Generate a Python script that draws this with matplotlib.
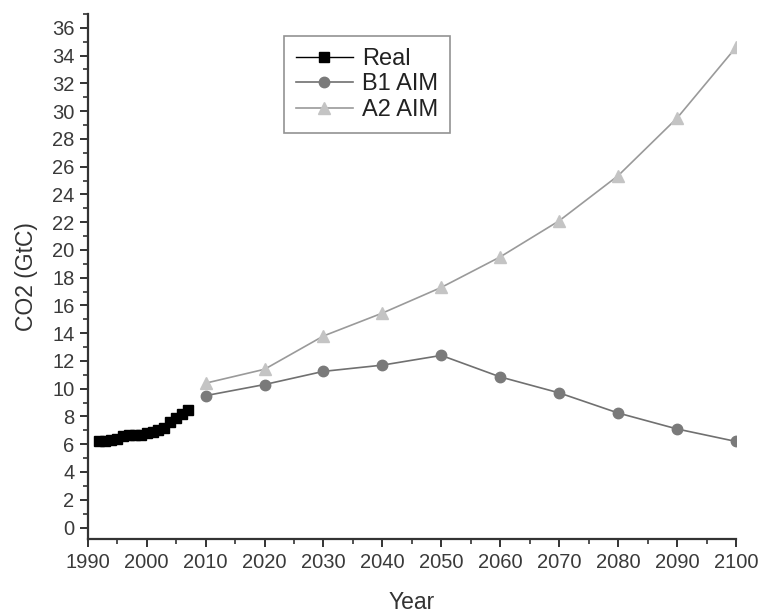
import numpy as np
import matplotlib.pyplot as plt
from matplotlib.ticker import MultipleLocator

plt.rcParams['font.family'] = ['Liberation Sans', 'DejaVu Sans']

# observed emissions
real_years = [1992, 1993, 1994, 1995, 1996, 1997, 1998, 1999,
              2000, 2001, 2002, 2003, 2004, 2005, 2006, 2007]
real_co2 = [6.2, 6.2, 6.3, 6.4, 6.6, 6.7, 6.7, 6.7,
            6.8, 6.9, 7.0, 7.2, 7.6, 7.9, 8.2, 8.5]

# scenario projections
scen_years = [2010, 2020, 2030, 2040, 2050, 2060, 2070, 2080, 2090, 2100]
b1_aim = [9.5, 10.3, 11.25, 11.7, 12.4, 10.85, 9.7, 8.25, 7.1, 6.2]
a2_aim = [10.4, 11.4, 13.8, 15.45, 17.3, 19.5, 22.1, 25.35, 29.5, 34.6]

fig = plt.figure(figsize=(7.58, 6.16), dpi=100)
ax = fig.add_axes([0.1157, 0.1245, 0.8553, 0.8528])

ax.plot(real_years, real_co2, color='black', marker='s', markersize=7.5,
        linewidth=1.0, label='Real')
ax.plot(scen_years, b1_aim, color='#707070', marker='o', markersize=7.5,
        markerfacecolor='#7a7a7a', markeredgecolor='#7a7a7a',
        linewidth=1.2, label='B1 AIM')
ax.plot(scen_years, a2_aim, color='#9a9a9a', marker='^', markersize=9,
        markerfacecolor='#c4c4c4', markeredgecolor='#c4c4c4',
        linewidth=1.2, label='A2 AIM')

ax.set_xlim(1990, 2100)
ax.set_ylim(-0.85, 37)
ax.xaxis.set_major_locator(MultipleLocator(10))
ax.xaxis.set_minor_locator(MultipleLocator(5))
ax.yaxis.set_major_locator(MultipleLocator(2))
ax.yaxis.set_minor_locator(MultipleLocator(1))
ax.set_yticks(np.arange(0, 37, 2))

for side in ['top', 'right']:
    ax.spines[side].set_visible(False)
for side in ['left', 'bottom']:
    ax.spines[side].set_linewidth(1.6)
    ax.spines[side].set_color('#333333')

ax.tick_params(which='major', direction='out', length=6, width=1.4,
               labelsize=14.5, colors='#333333', labelcolor='#3a3a3a')
ax.tick_params(which='minor', direction='out', length=3.5, width=1.2,
               colors='#333333')

ax.set_xlabel('Year', fontsize=16.5, color='#333333', labelpad=14)
ax.set_ylabel('CO2 (GtC)', fontsize=16.5, color='#333333', labelpad=10)

leg = ax.legend(loc='upper left', bbox_to_anchor=(0.303, 0.958),
                borderaxespad=0, fontsize=17, fancybox=False,
                edgecolor='#777777', handlelength=2.4, labelspacing=0.15,
                borderpad=0.5, handletextpad=0.4)
leg.get_frame().set_linewidth(1.2)
for t in leg.get_texts():
    t.set_color('#222222')

fig.savefig('out.png', dpi=100)
